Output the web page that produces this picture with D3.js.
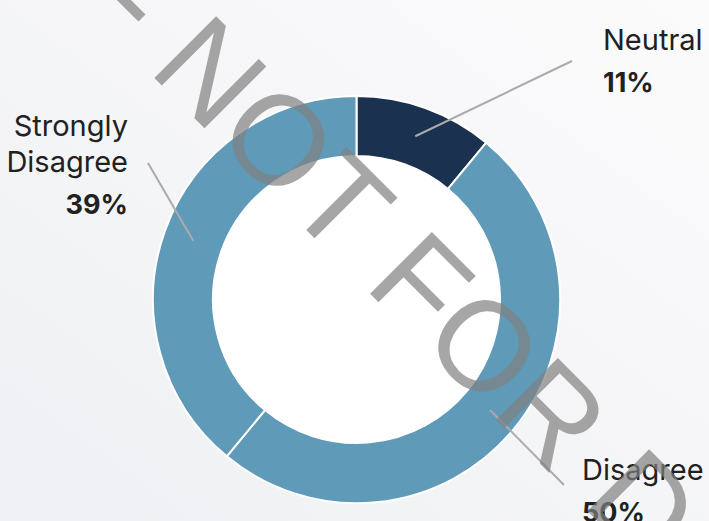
<!DOCTYPE html>
<html>
<head>
<meta charset="utf-8">
<script src="https://cdn.jsdelivr.net/npm/d3@7"></script>
<style>
  html, body { margin: 0; padding: 0; background: #f4f5f7; }
  svg { display: block; }
</style>
</head>
<body>
<svg id="chart" width="709" height="521"></svg>
<script>
// Survey response shares
const categories = ["Neutral", "Disagree", "Strongly Disagree"];
const nameLines = [["Neutral"], ["Disagree"], ["Strongly", "Disagree"]];
const values = [11, 50, 39];
const colors = ["#1a3150", "#5f9ab8", "#5f9ab8"];
const watermarkLead = "DRAFT -";
const watermarkText = "NOT FOR DISTRIBUTION";

const W = 709, H = 521;
const cx = 356.5, cy = 299.5;
const outerR = 203.5, innerR = 143.5;

// Label layout: where each leader line ends and where its text block sits
const labelLayout = {
  "Neutral":           { end: [572, 61],  x: 603, y: 50,  anchor: "start" },
  "Disagree":          { end: [564, 485], x: 582, y: 480, anchor: "start" },
  "Strongly Disagree": { end: [148, 163], x: 128, y: 136, anchor: "end" }
};

const svg = d3.select("#chart");

// soft background wash
const defs = svg.append("defs");
const grad = defs.append("linearGradient")
  .attr("id", "bg").attr("x1", "100%").attr("y1", "0%").attr("x2", "0%").attr("y2", "100%");
grad.append("stop").attr("offset", "0%").attr("stop-color", "#fbfbfc");
grad.append("stop").attr("offset", "100%").attr("stop-color", "#eff0f3");
svg.append("rect").attr("width", W).attr("height", H).attr("fill", "url(#bg)");

const g = svg.append("g").attr("transform", `translate(${cx},${cy})`);

// white centre
g.append("circle").attr("r", innerR).attr("fill", "#ffffff");

const pie = d3.pie().sort(null).value(d => d.value);
const arc = d3.arc().innerRadius(innerR).outerRadius(outerR);
const data = categories.map((c, i) => ({ name: c, value: values[i], color: colors[i], lines: nameLines[i] }));
const arcs = pie(data);

g.selectAll("path.slice")
  .data(arcs)
  .join("path")
  .attr("class", "slice")
  .attr("d", arc)
  .attr("fill", d => d.data.color)
  .attr("stroke", "#ffffff")
  .attr("stroke-width", 2);

// leader lines from the middle of each ring segment
arcs.forEach(d => {
  const [x0, y0] = arc.centroid(d);
  const L = labelLayout[d.data.name];
  svg.append("line")
    .attr("x1", cx + x0).attr("y1", cy + y0)
    .attr("x2", L.end[0]).attr("y2", L.end[1])
    .attr("stroke", "#ababab")
    .attr("stroke-width", 2);
});

// labels
const nameLH = 35.5, pctGap = 42;
arcs.forEach(d => {
  const L = labelLayout[d.data.name];
  const t = svg.append("text")
    .attr("text-anchor", L.anchor)
    .attr("font-family", "Inter, 'Noto Sans', sans-serif")
    .attr("font-size", 29)
    .attr("fill", "#212121");
  d.data.lines.forEach((ln, i) => {
    t.append("tspan").attr("x", L.x).attr("y", L.y + i * nameLH).text(ln);
  });
  t.append("tspan")
    .attr("x", L.x)
    .attr("y", L.y + (d.data.lines.length - 1) * nameLH + pctGap)
    .attr("font-size", 27)
    .attr("font-weight", 700)
    .text(d.data.value + "%");
});

// diagonal watermark over everything
const wm = svg.append("g")
  .attr("transform", "translate(147,70.7) rotate(45)")
  .attr("font-family", "'Liberation Sans', Arial, sans-serif")
  .attr("font-size", 127)
  .attr("letter-spacing", 1)
  .attr("fill", "#808080")
  .attr("fill-opacity", 0.7);
wm.append("text").attr("x", -34).attr("y", 0).attr("text-anchor", "end").text(watermarkLead);
wm.append("text").attr("x", 0).attr("y", 0).attr("text-anchor", "start").text(watermarkText);
</script>
</body>
</html>
